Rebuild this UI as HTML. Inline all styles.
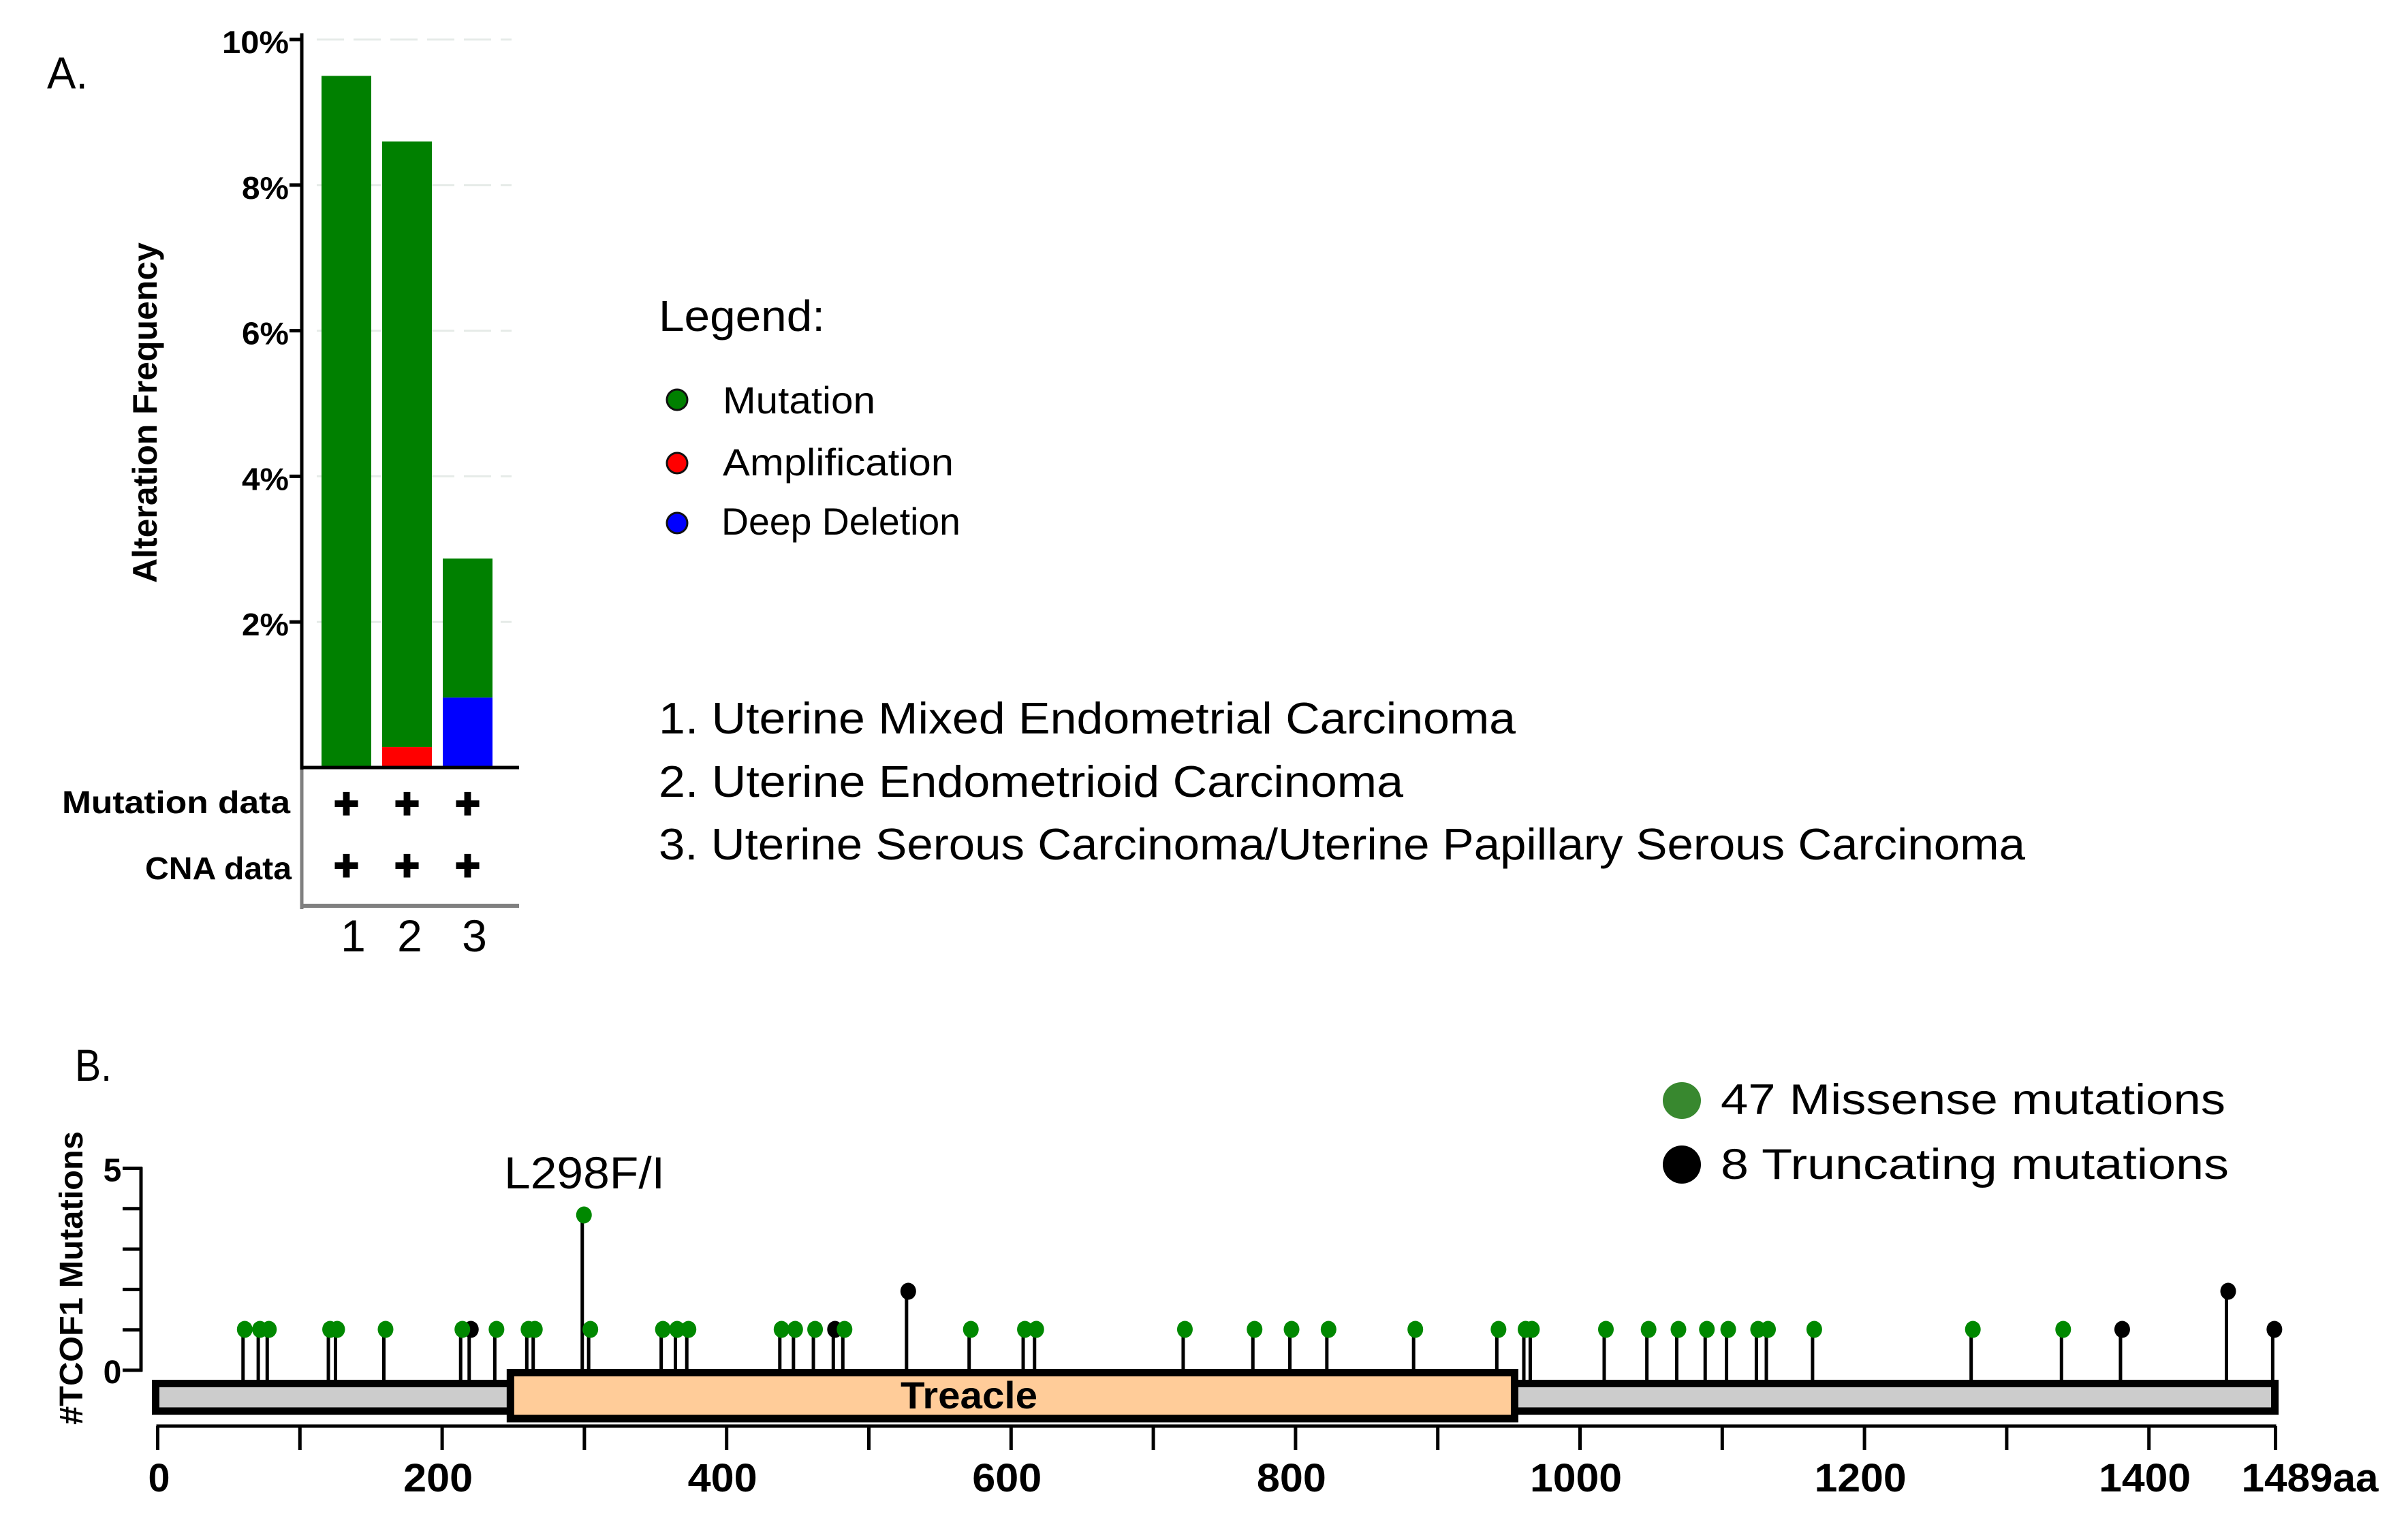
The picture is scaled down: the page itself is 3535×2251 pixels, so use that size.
<!DOCTYPE html>
<html lang="en">
<head>
<meta charset="utf-8">
<title>TCOF1 alteration frequency and mutation map</title>
<style>
html,body{margin:0;padding:0;background:#fff}
svg{display:block}
text{font-family:"Liberation Sans",sans-serif;fill:#000}
</style>
</head>
<body>
<svg id="fig" xmlns="http://www.w3.org/2000/svg" width="3535" height="2251" viewBox="0 0 3535 2251">
<rect width="3535" height="2251" fill="#fff"/>

<text x="69" y="130" font-size="66" textLength="60" lengthAdjust="spacingAndGlyphs">A.</text>
<text x="110" y="1587" font-size="66" textLength="54" lengthAdjust="spacingAndGlyphs">B.</text>

<g id="panelA"></g>

<text transform="translate(230,856) rotate(-90)" font-size="50" font-weight="bold" textLength="500" lengthAdjust="spacingAndGlyphs">Alteration Frequency</text>
<text x="91" y="1194" font-size="46" font-weight="bold" textLength="335" lengthAdjust="spacingAndGlyphs">Mutation data</text>
<text x="213" y="1291" font-size="46" font-weight="bold" textLength="215" lengthAdjust="spacingAndGlyphs">CNA data</text>

<g>
  <text x="967" y="486" font-size="64" textLength="244" lengthAdjust="spacingAndGlyphs">Legend:</text>
  <circle cx="994" cy="587" r="15" fill="#008000" stroke="#111" stroke-width="3"/>
  <circle cx="994" cy="680" r="15" fill="#ff0000" stroke="#111" stroke-width="3"/>
  <circle cx="994" cy="768" r="15" fill="#0000ff" stroke="#111" stroke-width="3"/>
  <text x="1061" y="607" font-size="56" fill="#222" textLength="224" lengthAdjust="spacingAndGlyphs">Mutation</text>
  <text x="1061" y="698" font-size="56" fill="#222" textLength="339" lengthAdjust="spacingAndGlyphs">Amplification</text>
  <text x="1059" y="785" font-size="56" fill="#222" textLength="351" lengthAdjust="spacingAndGlyphs">Deep Deletion</text>
</g>

<g>
  <text x="967" y="1077" font-size="65" textLength="1258" lengthAdjust="spacingAndGlyphs">1. Uterine Mixed Endometrial Carcinoma</text>
  <text x="967" y="1170" font-size="65" textLength="1093" lengthAdjust="spacingAndGlyphs">2. Uterine Endometrioid Carcinoma</text>
  <text x="967" y="1262" font-size="65" textLength="2006" lengthAdjust="spacingAndGlyphs">3. Uterine Serous Carcinoma/Uterine Papillary Serous Carcinoma</text>
</g>

<g id="panelB"></g>

<text transform="translate(121,2092) rotate(-90)" font-size="48" font-weight="bold" textLength="431" lengthAdjust="spacingAndGlyphs">#TCOF1 Mutations</text>
<text x="740" y="1745" font-size="66" textLength="236" lengthAdjust="spacingAndGlyphs">L298F/I</text>

<g>
  <ellipse cx="2469" cy="1616" rx="28" ry="27" fill="#38882f"/>
  <ellipse cx="2469" cy="1710" rx="28" ry="28" fill="#000"/>
  <text x="2526" y="1636" font-size="63" textLength="741" lengthAdjust="spacingAndGlyphs">47 Missense mutations</text>
  <text x="2526" y="1731" font-size="63" textLength="746" lengthAdjust="spacingAndGlyphs">8 Truncating mutations</text>
</g>
</svg>

<script>
var categories = ['1', '2', '3'];
var mutationValues = [9.5, 8.32, 1.91];
var amplificationValues = [0, 0.28, 0];
var deletionValues = [0, 0, 0.96];
var hasMutationData = [1, 1, 1];
var hasCnaData = [1, 1, 1];
var freqTicks = [2, 4, 6, 8, 10];
var freqTickLabels = ['2%', '4%', '6%', '8%', '10%'];

var missensePositions = [60, 70.7, 77, 120, 125, 159, 213, 237, 259.5, 264, 298.5, 303, 354, 364, 372, 437.4, 447, 461, 481.7, 570.5, 608.5, 616.5, 721, 770, 796, 822, 883, 941.5, 960.5, 965, 1017, 1047, 1068, 1088, 1103, 1124, 1131, 1163.5, 1275, 1338.5];
var missenseCounts = [1, 1, 1, 1, 1, 1, 1, 1, 1, 1, 4, 1, 1, 1, 1, 1, 1, 1, 1, 1, 1, 1, 1, 1, 1, 1, 1, 1, 1, 1, 1, 1, 1, 1, 1, 1, 1, 1, 1, 1];
var truncatingPositions = [219, 475, 526.5, 1380, 1454.5, 1487];
var truncatingCounts = [1, 1, 2, 1, 2, 1];
var countTicks = [0, 1, 2, 3, 4, 5];
var countTickLabels = ['0', '5'];
var aaTicks = [0, 100, 200, 300, 400, 500, 600, 700, 800, 900, 1000, 1100, 1200, 1300, 1400, 1489];
var aaTickLabels = [0, 200, 400, 600, 800, 1000, 1200, 1400];
var proteinLength = 1489;
var domainStart = 248;
var domainEnd = 954;

var NS = 'http://www.w3.org/2000/svg';
function make(tag, parent, attrs, content) {
  var node = document.createElementNS(NS, tag);
  for (var key in attrs) { node.setAttribute(key, attrs[key]); }
  if (content !== undefined) { node.textContent = content; }
  parent.appendChild(node);
  return node;
}

var panelA = document.getElementById('panelA');
var panelB = document.getElementById('panelB');

/* ---------- Panel A ---------- */
function yFreq(v) { return 1127 - 106.9 * v; }
function xBar(i) { return 472 + 89 * i; }
function categoryLabelX(i) { return xBar(i) + 36.5 + (i === 1 ? 4 : 10); }
var barWidth = 73;
var el;

freqTicks.forEach(function (t) {
  el = make('line', panelA, {x1: 465, x2: 751, y1: yFreq(t), y2: yFreq(t), stroke: '#e6ebe8', 'stroke-width': 3, 'stroke-dasharray': '40 14'});
  
  
});

categories.forEach(function (c, i) {
  var amp = amplificationValues[i], del = deletionValues[i], mut = mutationValues[i];
  var base = amp + del;
  el = make('rect', panelA, {x: xBar(i), y: yFreq(base + mut), width: barWidth, height: yFreq(base) - yFreq(base + mut), fill: '#008000'});
  
  
  if (amp > 0) {
    el = make('rect', panelA, {x: xBar(i), y: yFreq(amp), width: barWidth, height: yFreq(0) - yFreq(amp), fill: '#ff0000'});
    
    
  }
  if (del > 0) {
    el = make('rect', panelA, {x: xBar(i), y: yFreq(del), width: barWidth, height: yFreq(0) - yFreq(del), fill: '#0000ff'});
    
    
  }
  if (hasMutationData[i]) {
    el = make('text', panelA, {x: xBar(i) + barWidth / 2, y: 1201, 'font-size': 62, 'font-weight': 'bold', 'text-anchor': 'middle', stroke: '#000', 'stroke-width': 3}, '+');
    
    
  }
  if (hasCnaData[i]) {
    el = make('text', panelA, {x: xBar(i) + barWidth / 2, y: 1292, 'font-size': 62, 'font-weight': 'bold', 'text-anchor': 'middle', stroke: '#000', 'stroke-width': 3}, '+');
    
    
  }
  el = make('text', panelA, {x: categoryLabelX(i), y: 1397, 'font-size': 66, 'text-anchor': 'middle'}, c);
  
  
});

el = make('line', panelA, {x1: 443, x2: 443, y1: 49, y2: 1130, stroke: '#000', 'stroke-width': 5});


el = make('line', panelA, {x1: 441, x2: 762, y1: 1127, y2: 1127, stroke: '#000', 'stroke-width': 5});


el = make('line', panelA, {x1: 443, x2: 443, y1: 1130, y2: 1335, stroke: '#808080', 'stroke-width': 5});


el = make('line', panelA, {x1: 441, x2: 762, y1: 1330, y2: 1330, stroke: '#808080', 'stroke-width': 6});



freqTicks.forEach(function (t, i) {
  el = make('line', panelA, {x1: 425, x2: 443, y1: yFreq(t), y2: yFreq(t), stroke: '#000', 'stroke-width': 5});
  
  
  el = make('text', panelA, {x: 424, y: yFreq(t) + 20, 'font-size': 46, 'font-weight': 'bold', 'text-anchor': 'end', textLength: freqTickLabels[i].length === 3 ? 98 : 69, lengthAdjust: 'spacingAndGlyphs'}, freqTickLabels[i]);
  
  
});

/* ---------- Panel B ---------- */
function xAa(v) { return 231.5 + 2.088 * v; }
function yCount(v) { return 2008 - 56 * v; }
function yCountTick(v) { return 2012 - 59.3 * v; }

function drawStems(positions, counts, kind) {
  positions.forEach(function (p, i) {
    el = make('line', panelB, {x1: xAa(p), x2: xAa(p), y1: yCount(counts[i]), y2: 2030, stroke: '#000', 'stroke-width': 5});
    
    
  });
}
function drawHeads(positions, counts, kind, color) {
  positions.forEach(function (p, i) {
    el = make('ellipse', panelB, {cx: xAa(p) + 2.5, cy: yCount(counts[i]), rx: 11.5, ry: 12.5, fill: color});
    
    
  });
}
drawStems(truncatingPositions, truncatingCounts, 'truncating');
drawStems(missensePositions, missenseCounts, 'missense');
drawHeads(truncatingPositions, truncatingCounts, 'truncating', '#000');
drawHeads(missensePositions, missenseCounts, 'missense', '#008800');

el = make('line', panelB, {x1: 207, x2: 207, y1: 1714, y2: 2014, stroke: '#000', 'stroke-width': 5});


countTicks.forEach(function (t) {
  el = make('line', panelB, {x1: 180, x2: 209, y1: yCountTick(t), y2: yCountTick(t), stroke: '#000', 'stroke-width': 5});
  
  
});
countTickLabels.forEach(function (t) {
  el = make('text', panelB, {x: 165, y: yCountTick(+t) + 19, 'font-size': 48, 'font-weight': 'bold', 'text-anchor': 'middle'}, t);
  
  
});

el = make('rect', panelB, {x: xAa(0) - 3, y: 2031.5, width: xAa(proteinLength) - 1 - (xAa(0) - 3), height: 40.5, fill: '#cccccc', stroke: '#000', 'stroke-width': 11});


el = make('rect', panelB, {x: xAa(domainStart), y: 2015.5, width: xAa(domainEnd) - xAa(domainStart), height: 67.5, fill: '#ffcc99', stroke: '#000', 'stroke-width': 11});


el = make('text', panelB, {x: 1322, y: 2068, 'font-size': 56, 'font-weight': 'bold', textLength: 201, lengthAdjust: 'spacingAndGlyphs'}, 'Treacle');



el = make('line', panelB, {x1: xAa(0) - 2, x2: xAa(proteinLength) + 1, y1: 2094, y2: 2094, stroke: '#000', 'stroke-width': 5});


aaTicks.forEach(function (t) {
  el = make('line', panelB, {x1: xAa(t), x2: xAa(t), y1: 2094, y2: 2129, stroke: '#000', 'stroke-width': 5});
  
  
});
aaTickLabels.forEach(function (t) {
  var s = String(t);
  var w = s.length === 1 ? 32 : (s.length === 3 ? 102 : 135);
  el = make('text', panelB, {x: t === 0 ? xAa(t) + 2 : xAa(t) - 6, y: 2190, 'font-size': 58, 'font-weight': 'bold', 'text-anchor': 'middle', textLength: w, lengthAdjust: 'spacingAndGlyphs'}, s);
  
  
});
el = make('text', panelB, {x: xAa(proteinLength) - 50, y: 2190, 'font-size': 58, 'font-weight': 'bold', textLength: 201, lengthAdjust: 'spacingAndGlyphs'}, proteinLength + 'aa');


</script>
</body>
</html>
